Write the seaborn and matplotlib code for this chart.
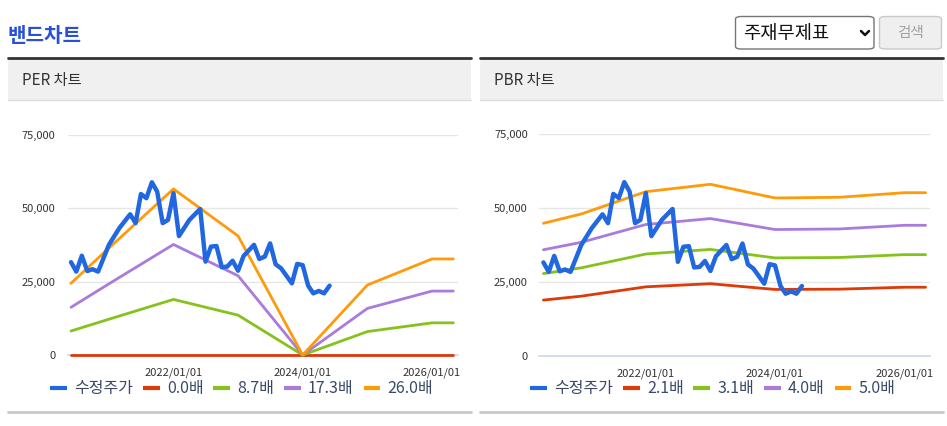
import numpy as np
import pandas as pd
import matplotlib
matplotlib.use('Agg')
import matplotlib.pyplot as plt
import matplotlib.dates as mdates
from matplotlib.lines import Line2D
from matplotlib.patches import Rectangle, FancyBboxPatch
from matplotlib.ticker import FuncFormatter
import seaborn as sns

# 수정주가 (monthly, corners only)
price_dates = ['2020-06-01', '2020-07-01', '2020-08-01', '2020-09-01', '2020-10-01', '2020-11-01',
               '2021-01-01', '2021-03-01', '2021-05-01', '2021-06-01', '2021-07-01', '2021-08-01',
               '2021-09-01', '2021-10-01', '2021-11-01', '2021-12-01', '2022-01-01', '2022-02-01',
               '2022-04-01', '2022-06-01', '2022-07-01', '2022-08-01', '2022-09-01', '2022-10-01',
               '2022-11-01', '2022-12-01', '2023-01-01', '2023-02-01', '2023-04-01', '2023-05-01',
               '2023-06-01', '2023-07-01', '2023-08-01', '2023-09-01', '2023-11-01', '2023-12-01',
               '2024-01-01', '2024-02-01', '2024-03-01', '2024-04-01', '2024-05-01', '2024-06-01']
price_values = [31600, 28400, 33800, 28600, 29200, 28400, 37500, 43200, 47900, 44900, 54800, 53400,
                58800, 55600, 44900, 46000, 55100, 40500, 46000, 49700, 31800, 36900, 37100, 29900,
                30100, 32100, 28700, 33700, 37500, 32700, 33500, 38000, 30900, 29500, 24400, 31000,
                30600, 23600, 21000, 21800, 21000, 23600]

# band base values (EPS for PER, BPS for PBR)
band_dates = ['2020-06-01', '2021-01-01', '2022-01-01', '2023-01-01', '2024-01-01',
              '2025-01-01', '2026-01-01', '2026-05-01']
eps_values = [939, 1400, 2175, 1559, 0, 917, 1258, 1258]
bps_values = [8972, 9602, 11112, 11614, 10686, 10734, 11044, 11044]

per_multiples = [0.0, 8.7, 17.3, 26.0]
pbr_multiples = [2.1, 3.1, 4.0, 5.0]

y_ticks = [0, 25000, 50000, 75000]
x_ticks = ['2022-01-01', '2024-01-01', '2026-01-01']

price_color = '#2168e0'
band_colors = ['#dd3a0a', '#86c21c', '#a97bdc', '#ff9a0a']
text_color = '#333333'
legend_color = '#3a4a66'

sns.set_style('white')
plt.rcParams['font.family'] = ['Noto Sans CJK KR', 'DejaVu Sans']

W, H = 947, 426
fig = plt.figure(figsize=(W / 100, H / 100), dpi=100)


def fx(x):
    return x / W


def fy(y):
    return 1 - y / H


def box(x0, y0, x1, y1, **kw):
    fig.add_artist(Rectangle((fx(x0), fy(y1)), fx(x1) - fx(x0), fy(y0) - fy(y1),
                             transform=fig.transFigure, **kw))


# page header
fig.text(fx(8), fy(36), '밴드차트', color='#2b50d8', fontsize=14.5, fontweight='bold',
         va='center', ha='left')

fig.add_artist(FancyBboxPatch((fx(735.5), fy(49)), fx(874) - fx(735.5), fy(16.5) - fy(49),
                              boxstyle='round,pad=0,rounding_size=0.006', transform=fig.transFigure,
                              facecolor='white', edgecolor='#767676', lw=1))
fig.text(fx(743), fy(33), '주재무제표', fontsize=13.5, color='#111111', va='center', ha='left')
fig.add_artist(Line2D([fx(861), fx(865), fx(869)], [fy(31), fy(35), fy(31)],
                      transform=fig.transFigure, color='#111111', lw=1.8))
fig.add_artist(FancyBboxPatch((fx(879.5), fy(49)), fx(941.5) - fx(879.5), fy(16.5) - fy(49),
                              boxstyle='round,pad=0,rounding_size=0.006', transform=fig.transFigure,
                              facecolor='#efefef', edgecolor='#c9c9c9', lw=1))
fig.text(fx(910.5), fy(33), '검색', fontsize=10.5, color='#a0a0a0', va='center', ha='center')

price_df = pd.DataFrame({'date': pd.to_datetime(price_dates), 'value': price_values})


def draw_panel(px0, px1, ax_rect, title, base, multiples, xlim, ypad, legend_x):
    # panel frame
    box(px0, 59, px1, 100, facecolor='#f0f0f0', edgecolor='none')
    fig.add_artist(Line2D([fx(px0), fx(px1)], [fy(58), fy(58)], transform=fig.transFigure,
                          color='#333333', lw=2))
    fig.add_artist(Line2D([fx(px0), fx(px1)], [fy(100), fy(100)], transform=fig.transFigure,
                          color='#dddddd', lw=1))
    fig.add_artist(Line2D([fx(px0), fx(px1)], [fy(411.5), fy(411.5)], transform=fig.transFigure,
                          color='#c8c8c8', lw=2))
    fig.text(fx(px0 + 14), fy(80), title, fontsize=11, color=text_color, va='center', ha='left')

    ax = fig.add_axes(ax_rect)
    dates = pd.to_datetime(band_dates)
    handles = [Line2D([], [], color=price_color, lw=3, solid_capstyle='butt')]
    labels = ['수정주가']
    for m, c in zip(multiples, band_colors):
        band_df = pd.DataFrame({'date': dates, 'value': np.array(base) * m})
        sns.lineplot(data=band_df, x='date', y='value', ax=ax, color=c, lw=2,
                     estimator=None, clip_on=False)
        handles.append(Line2D([], [], color=c, lw=3, solid_capstyle='butt'))
        labels.append(f'{m:.1f}배')
    sns.lineplot(data=price_df, x='date', y='value', ax=ax, color=price_color, lw=3.2,
                 estimator=None, clip_on=False, solid_joinstyle='round', solid_capstyle='round')

    ax.set_xlim(pd.Timestamp(xlim[0]), pd.Timestamp(xlim[1]))
    ax.set_ylim(0, 75000)
    ax.set_yticks(y_ticks)
    ax.yaxis.set_major_formatter(FuncFormatter(lambda v, p: f'{int(v):,}'))
    ax.set_xticks(pd.to_datetime(x_ticks))
    ax.xaxis.set_major_formatter(mdates.DateFormatter('%Y/%m/%d'))
    ax.set_xlabel('')
    ax.set_ylabel('')
    ax.grid(axis='y', color='#e6e6e6', lw=1)
    ax.grid(axis='x', visible=False)
    for s in ['top', 'right', 'left']:
        ax.spines[s].set_visible(False)
    ax.spines['bottom'].set_color('#ccd6eb')
    ax.spines['bottom'].set_linewidth(1.2)
    ax.spines['bottom'].set_zorder(0.5)
    ax.set_axisbelow(True)
    ax.tick_params(axis='x', length=7, width=1, color='#ccd6eb', labelsize=8,
                   labelcolor=text_color, pad=2)
    ax.tick_params(axis='y', length=0, labelsize=8, labelcolor=text_color, pad=ypad)

    ax.legend(handles, labels, loc='center left', bbox_to_anchor=(fx(legend_x), fy(389)),
              bbox_transform=fig.transFigure, ncol=5, frameon=False, fontsize=11.5,
              handlelength=1.05, handletextpad=0.45, columnspacing=0.62, borderpad=0,
              borderaxespad=0, labelcolor=legend_color)
    return ax


draw_panel(8, 471, [fx(68), fy(355), fx(457.7) - fx(68), fy(134.7) - fy(355)],
           'PER 차트', eps_values, per_multiples, ('2020-05-15', '2026-05-26'), 9, 50)
draw_panel(480, 943, [fx(539), fy(355.7), fx(930) - fx(539), fy(134.3) - fy(355.7)],
           'PBR 차트', bps_values, pbr_multiples, ('2020-05-07', '2026-05-26'), 8, 530)

fig.savefig('out.png', dpi=100)
